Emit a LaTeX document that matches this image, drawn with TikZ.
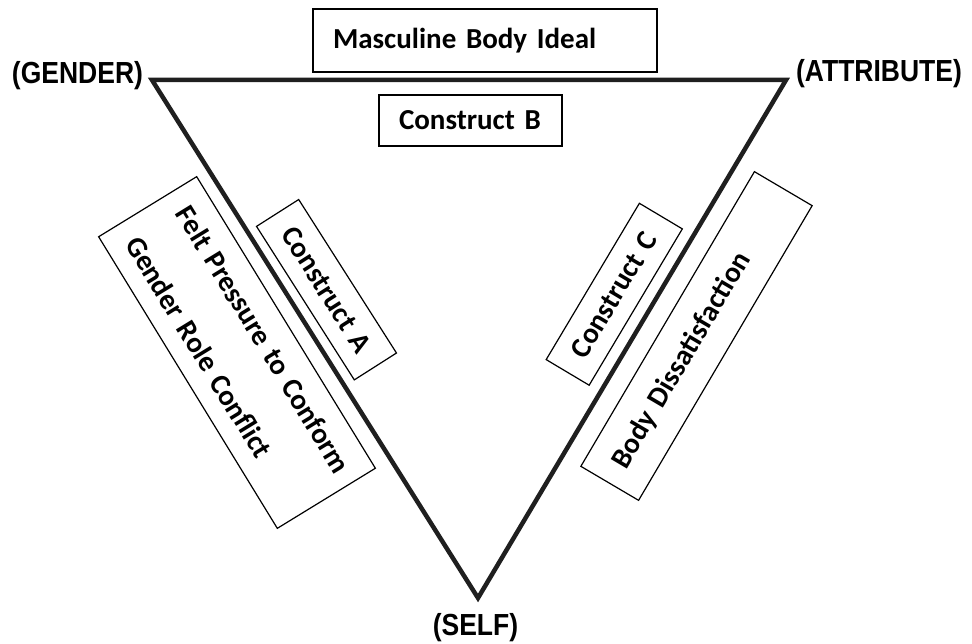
\documentclass[tikz,border=0pt]{standalone}
\usepackage{fontspec}
\setmainfont{Carlito}
\newfontfamily\vertexfont{Liberation Sans}
\begin{document}
\begin{tikzpicture}[x=1pt,y=-1pt,
  box/.style={draw=black, line width=1.2pt, inner xsep=20pt, inner ysep=0pt,
    align=left, font=\fontsize{29}{35}\selectfont\bfseries},
  vertexlabel/.style={inner sep=0pt, font=\fontsize{26.5}{30}\selectfont\vertexfont\bfseries},
  side/.style={draw=black!88, line width=4.5pt}]
\useasboundingbox (0,0) rectangle (972,644);

% corners of the triangle
\coordinate (G) at (152,80);
\coordinate (A) at (786,80);
\coordinate (S) at (478,598);
\draw[side] (G) -- (A) -- (S) -- cycle;

% corner labels
\node[vertexlabel] (gl) at (77.5,75.5) {\scalebox{1}[1.15]{(GENDER)}};
\node[vertexlabel] (al) at (879,73.5) {\scalebox{1}[1.15]{(ATTRIBUTE)}};
\node[vertexlabel] (sl) at (475.5,627.5) {\scalebox{1}[1.15]{(SELF)}};

% constructs along the top side
\node[box, text width=304pt, minimum height=63pt] (mbi) at (485,40.5) {\mbox{Masculine Body Ideal}};
\node[box, text width=143pt, minimum height=51pt] (cb) at (470.5,120.5) {\mbox{Construct B}};

% constructs along the left side
\node[box, text width=142pt, minimum height=50pt, rotate=-57.5] (ca) at (326.5,289.7) {\mbox{Construct A}};
\node[box, text width=302pt, minimum height=115pt, rotate=-58.5] (fp) at (237,352.5)
  {\mbox{Felt Pressure to Conform}\\[24pt]\mbox{Gender Role Conflict}};

% constructs along the right side
\node[box, text width=142pt, minimum height=50pt, rotate=59.2] (cc) at (614.25,294.25) {\mbox{Construct C}};
\node[box, text width=302pt, minimum height=67pt, rotate=59.5] (bd) at (696.5,336) {\mbox{Body Dissatisfaction}};
\end{tikzpicture}
\end{document}
